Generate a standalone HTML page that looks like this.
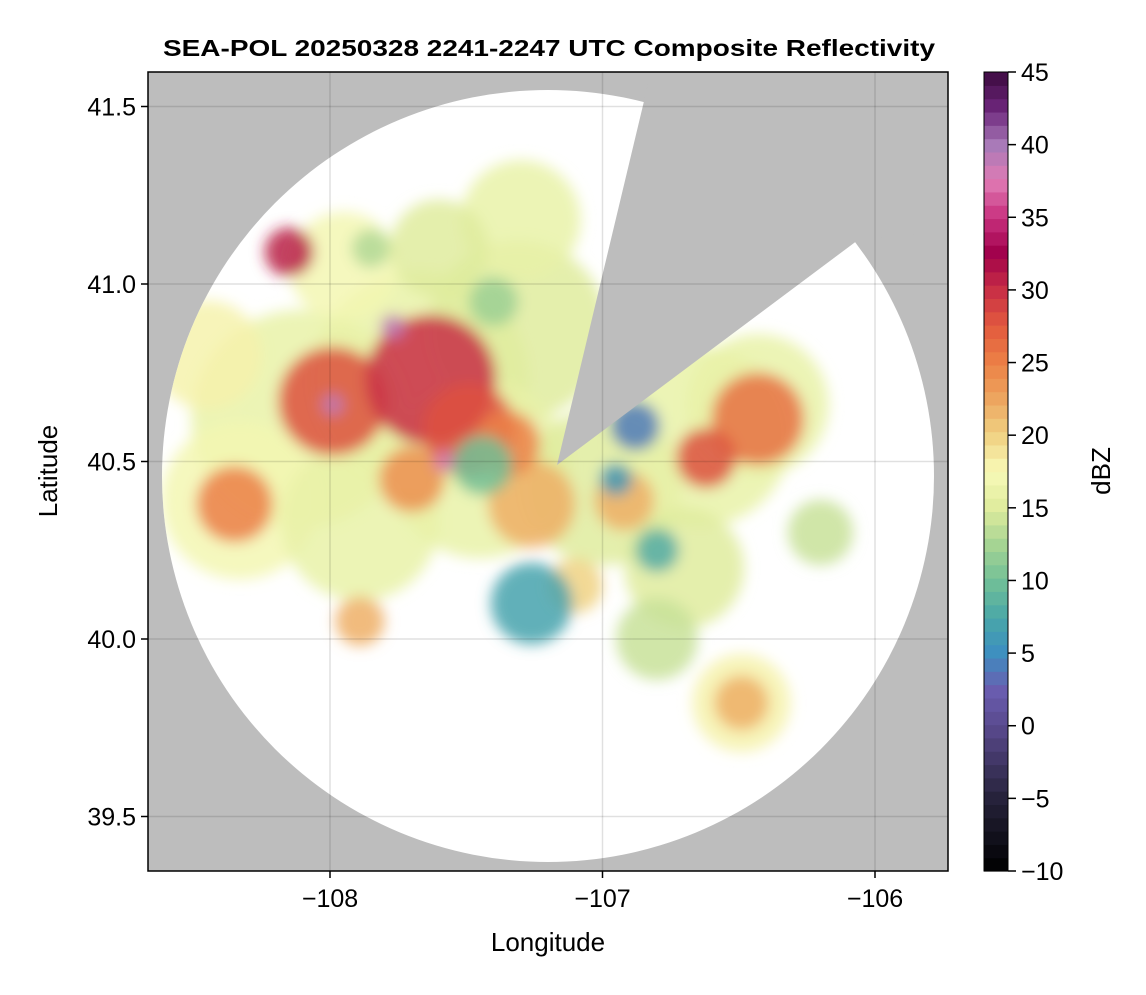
<!DOCTYPE html>
<html><head><meta charset="utf-8">
<style>
body{margin:0;background:#fff;font-family:"Liberation Sans",sans-serif;}
svg text{font-family:"Liberation Sans",sans-serif;}
</style></head>
<body>
<svg id="c" width="1146" height="990" viewBox="0 0 1146 990">
<defs>
<filter id="bl" x="-50%" y="-50%" width="200%" height="200%"><feGaussianBlur stdDeviation="7"/></filter>
<clipPath id="pc"><rect x="148" y="72" width="800" height="799"/></clipPath>
<clipPath id="disk"><circle cx="548" cy="476" r="386"/></clipPath>
</defs>
<text x="549" y="56" text-anchor="middle" font-size="23" font-weight="bold" textLength="772" lengthAdjust="spacingAndGlyphs">SEA-POL 20250328 2241-2247 UTC Composite Reflectivity</text>
<g clip-path="url(#pc)">
<rect x="148" y="72" width="800" height="799" fill="#bdbdbd"/>
<circle cx="548" cy="476" r="386" fill="#fff"/>
<g id="echo" clip-path="url(#disk)" filter="url(#bl)"></g>
<polygon points="557,465 645,97 660,30 960,30 960,230 858,240" fill="#bdbdbd"/>
<g id="grid"></g>
</g>
<rect x="148" y="72" width="800" height="799" fill="none" stroke="#000" stroke-width="1.5"/>
<g id="axes"></g>
<text x="548" y="951" text-anchor="middle" font-size="26">Longitude</text>
<text transform="translate(57,471) rotate(-90)" text-anchor="middle" font-size="26">Latitude</text>
<g id="cbar"></g>
<text transform="translate(1110,471) rotate(-90)" text-anchor="middle" font-size="26">dBZ</text>
</svg>
<script>
const xTicks=[-108,-107,-106];
const yTicks=[39.5,40.0,40.5,41.0,41.5];
const cbTicks=[-10,-5,0,5,10,15,20,25,30,35,40,45];
// echo cells: lon, lat, radius(deg lon), dBZ
const cellLon=[-108.11,-107.67,-107.31,-107.45,-107.0,-106.64,-106.43,-108.33,-107.89,-106.7,-106.49,-107.3,-106.8,-108.45,-107.95,-106.2,-107.6,
-107.99,-107.63,-107.49,-108.15,-106.43,-106.62,-108.35,-107.26,-106.92,-107.89,-106.49,-107.1,-107.35,-107.7,
-107.77,-107.99,-107.58,
-107.26,-107.44,-106.88,-107.4,-107.85,-106.8,-106.95];
const cellLat=[40.62,40.73,40.87,40.48,40.43,40.57,40.66,40.39,40.33,40.2,39.82,41.18,40.0,40.8,41.05,40.3,41.1,
40.67,40.73,40.59,41.09,40.62,40.51,40.38,40.38,40.39,40.05,39.82,40.15,40.55,40.45,
40.88,40.66,40.5,
40.1,40.49,40.6,40.95,41.1,40.25,40.45];
const cellR=[0.4,0.4,0.33,0.33,0.29,0.33,0.26,0.29,0.29,0.22,0.18,0.22,0.15,0.2,0.2,0.12,0.18,
0.2,0.24,0.17,0.09,0.17,0.11,0.14,0.16,0.11,0.09,0.1,0.1,0.12,0.12,
0.045,0.04,0.04,
0.15,0.11,0.09,0.09,0.07,0.08,0.06];
const cellDbz=[16,16,15,16,15,16,16,17,16,15,18,16,14,18,17,14,15,
28,30,28,31,26,28,25,22,22,22,22,20,25,24,
39,39,38,
7,10,4,12,13,8,6];
const cols=[[-10,'#000000'],[-5,'#26223a'],[0,'#5a4a8e'],[2.5,'#6a5db0'],[5,'#3d8fc0'],[7.5,'#4aa7a8'],[10,'#72c097'],[12.5,'#a6d493'],[15,'#dfec9d'],[17.5,'#f8fab8'],[20,'#f0d283'],[22.5,'#eda65f'],[25,'#ec8046'],[27.5,'#e25a3e'],[30,'#c92f45'],[32.5,'#a0004a'],[35,'#c8307e'],[37.5,'#e07bb4'],[40,'#a87ab8'],[42.5,'#6c257a'],[45,'#3c0a3f']];
function h2r(h){return[1,3,5].map(i=>parseInt(h.substr(i,2),16));}
function cmap(v){v=Math.max(-10,Math.min(45,v));for(let i=0;i<cols.length-1;i++){if(v<=cols[i+1][0]){const t=(v-cols[i][0])/(cols[i+1][0]-cols[i][0]);const a=h2r(cols[i][1]),b=h2r(cols[i+1][1]);return 'rgb('+a.map((x,k)=>Math.round(x+(b[k]-x)*t)).join(',')+')';}}return cols[cols.length-1][1];}
const X=v=>330+(v+108)*272.5;
const Y=v=>284-(v-41)*355;
const NS='http://www.w3.org/2000/svg';
function mk(t,a,p){const e=document.createElementNS(NS,t);for(const k in a)e.setAttribute(k,a[k]);p.appendChild(e);return e;}
const echo=document.getElementById('echo');
for(let i=0;i<cellLon.length;i++){
 const c=mk('circle',{cx:X(cellLon[i]),cy:Y(cellLat[i]),r:cellR[i]*272.5,fill:cmap(cellDbz[i]),opacity:0.85},echo);
 
 
}
const grid=document.getElementById('grid'),axes=document.getElementById('axes');
xTicks.forEach(t=>{
 const l=mk('line',{x1:X(t),x2:X(t),y1:72,y2:871,stroke:'#000','stroke-opacity':0.12,'stroke-width':1.5},grid);
 
 mk('line',{x1:X(t),x2:X(t),y1:871,y2:878,stroke:'#000','stroke-width':1.5},axes);
 const tx=mk('text',{x:X(t),y:907,'text-anchor':'middle','font-size':25},axes);tx.textContent='\u2212'+Math.abs(t);
 
});
yTicks.forEach(t=>{
 const l=mk('line',{x1:148,x2:948,y1:Y(t),y2:Y(t),stroke:'#000','stroke-opacity':0.12,'stroke-width':1.5},grid);
 
 mk('line',{x1:141,x2:148,y1:Y(t),y2:Y(t),stroke:'#000','stroke-width':1.5},axes);
 const tx=mk('text',{x:136,y:Y(t)+9,'text-anchor':'end','font-size':25},axes);tx.textContent=t.toFixed(1);
 
});
const cb=document.getElementById('cbar');
const CY=v=>871-(v+10)/55*799;
const N=60,step=55/N;
for(let i=0;i<N;i++){
 const v=-10+i*step;
 const r=mk('rect',{x:984,y:CY(v+step),width:24,height:799/N+0.6,fill:cmap(v+step/2)},cb);
 
}
mk('rect',{x:984,y:72,width:24,height:799,fill:'none',stroke:'#000','stroke-width':1},cb);
cbTicks.forEach(t=>{
 mk('line',{x1:1008,x2:1016,y1:CY(t),y2:CY(t),stroke:'#000','stroke-width':1.5},cb);
 const tx=mk('text',{x:1021,y:CY(t)+9,'font-size':25},cb);tx.textContent=(t<0?'\u2212':'')+Math.abs(t);
 
});
</script>
</body></html>
